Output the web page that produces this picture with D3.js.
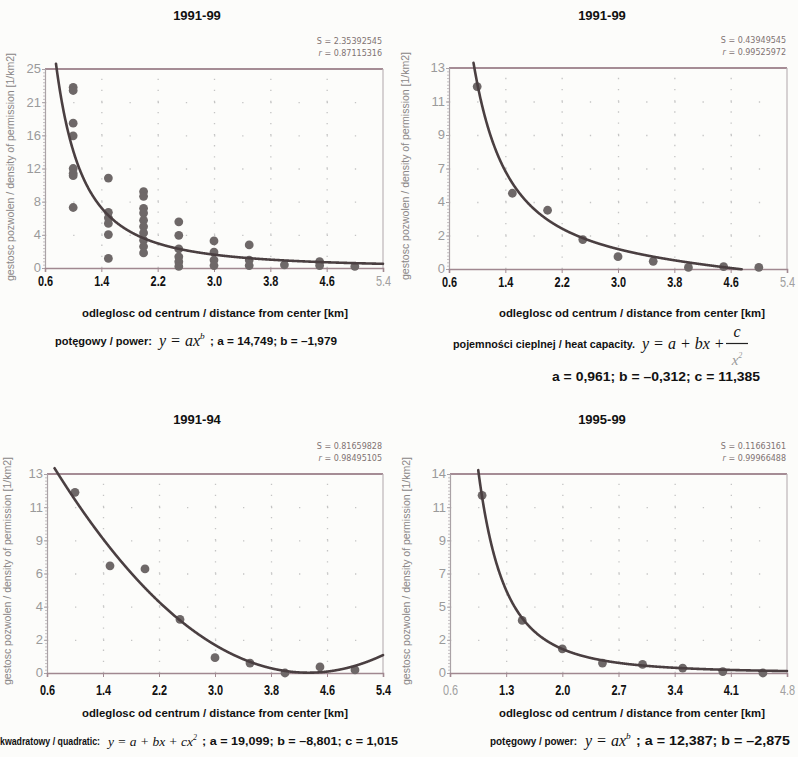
<!DOCTYPE html>
<html>
<head>
<meta charset="utf-8">
<script src="https://cdn.jsdelivr.net/npm/d3@7"></script>
<style>
  body { margin: 0; background: #fcfcfa; }
  svg { display: block; }
</style>
</head>
<body>
<svg id="chart" width="798" height="757"></svg>
<script>
// ---- data: distance from centre [km] and permit density [1/km2] ----
const dist1 = [1.0,1.0,1.0,1.0,1.0,1.0,1.0,1.0,
               1.5,1.5,1.5,1.5,1.5,1.5,
               2.0,2.0,2.0,2.0,2.0,2.0,2.0,2.0,2.0,2.0,
               2.5,2.5,2.5,2.5,2.5,2.5,
               3.0,3.0,3.0,3.0,
               3.5,3.5,3.5,
               4.0,
               4.5,4.5,
               5.0];
const dens1 = [22.7,22.3,18.2,16.6,12.5,11.9,11.6,7.6,
               11.3,7.0,6.3,5.6,4.2,1.2,
               9.6,9.0,7.5,6.9,6.0,5.2,4.4,3.5,2.7,1.9,
               5.8,4.1,2.4,1.4,0.8,0.2,
               3.4,2.0,1.0,0.3,
               2.9,1.0,0.3,
               0.4,
               0.8,0.3,
               0.2];

const dist2 = [1.0,1.5,2.0,2.5,3.0,3.5,4.0,4.5,5.0];
const dens2 = [11.8,4.9,3.8,1.9,0.8,0.5,0.1,0.15,0.1];

const dist3 = [1.0,1.5,2.0,2.5,3.0,3.5,4.0,4.5,5.0];
const dens3 = [11.8,7.0,6.8,3.5,1.0,0.65,0.0,0.4,0.2];

const dist4 = [1.0,1.5,2.0,2.5,3.0,3.5,4.0,4.5];
const dens4 = [12.5,3.7,1.7,0.7,0.6,0.35,0.1,0.0];

// fitted model parameters
const fit1 = [14.749, -1.979];          // power: a*x^b
const fit2 = [0.961, -0.312, 11.385];   // heat capacity: a + b*x + c/x^2
const fit3 = [19.099, -8.801, 1.015];   // quadratic: a + b*x + c*x^2
const fit4 = [12.387, -2.875];          // power: a*x^b

// fit statistics
const stats1 = ["2.35392545", "0.87115316"];
const stats2 = ["0.43949545", "0.99525972"];
const stats3 = ["0.81659828", "0.98495105"];
const stats4 = ["0.11663161", "0.99966488"];

// tick labels (evenly spaced along each axis)
const xTicksA = ["0.6","1.4","2.2","3.0","3.8","4.6","5.4"];
const xTicksB = ["0.6","1.3","2.0","2.7","3.4","4.1","4.8"];
const yTicks1 = ["0","4","8","12","16","21","25"];
const yTicks2 = ["0","2","4","7","9","11","13"];
const yTicks3 = ["0","2","4","6","9","11","13"];
const yTicks4 = ["0","2","5","7","9","11","14"];

const titles = ["1991-99", "1991-99", "1991-94", "1995-99"];
const xTitle = "odleglosc od centrum / distance from center [km]";
const yTitle = "gestosc pozwolen / density of permission [1/km2]";

// ---- drawing ----
const svg = d3.select("#chart");
const SANS = "'Liberation Sans', Arial, sans-serif";
const SERIF = "'Liberation Serif', 'Times New Roman', serif";

const power = p => v => p[0] * Math.pow(v, p[1]);
const heat = p => v => p[0] + p[1] * v + p[2] / (v * v);
const quad = p => v => p[0] + p[1] * v + p[2] * v * v;

const panels = [
  { box: [45, 383, 69, 268], xDom: [0.6, 5.4], yMax: 25, xLabels: xTicksA, yLabels: yTicks1,
    xs: dist1, ys: dens1, f: power(fit1), title: titles[0], tPos: [197, 20], stats: stats1,
    grayX: [6], yTitlePos: [10, 167], xTitlePos: [215, 317], pad: 4 },
  { box: [449, 787, 68, 269], xDom: [0.6, 5.4], yMax: 13, xLabels: xTicksA, yLabels: yTicks2,
    xs: dist2, ys: dens2, f: heat(fit2), title: titles[1], tPos: [602, 20], stats: stats2,
    grayX: [6], yTitlePos: [405, 166], xTitlePos: [632, 317], pad: 4 },
  { box: [47, 383, 474, 673], xDom: [0.6, 5.4], yMax: 13, xLabels: xTicksA, yLabels: yTicks3,
    xs: dist3, ys: dens3, f: quad(fit3), title: titles[2], tPos: [197, 424], stats: stats3,
    grayX: [], yTitlePos: [7, 571], xTitlePos: [215, 717], pad: 8 },
  { box: [450, 787, 474, 673], xDom: [0.6, 4.8], yMax: 14, xLabels: xTicksB, yLabels: yTicks4,
    xs: dist4, ys: dens4, f: power(fit4), title: titles[3], tPos: [602, 424], stats: stats4,
    grayX: [0, 6], yTitlePos: [406, 571], xTitlePos: [632, 717], pad: 8 }
];

panels.forEach(p => {
  const [x0, x1, y0, y1] = p.box;
  const x = d3.scaleLinear().domain(p.xDom).range([x0, x1]);
  const y = d3.scaleLinear().domain([0, p.yMax]).range([y1, y0]);
  const nX = p.xLabels.length - 1, nY = p.yLabels.length - 1;
  const xVals = p.xLabels.map((_, i) => p.xDom[0] + (p.xDom[1] - p.xDom[0]) * i / nX);
  const yVals = p.yLabels.map((_, i) => p.yMax * i / nY);
  const g = svg.append("g");

  // dotted grid
  const xStep = (x1 - x0) / nX, yStep = (y1 - y0) / nY;
  g.append("g").attr("transform", `translate(${x0},0)`)
    .call(d3.axisLeft(y).tickValues(yVals.slice(1, -1)).tickSize(-(x1 - x0)).tickFormat(""))
    .call(a => a.select(".domain").remove())
    .call(a => a.selectAll("line").attr("stroke", "#c4c4c4").attr("stroke-width", 1.3)
      .attr("stroke-dasharray", `1.3 ${xStep / 2 - 1.3}`));
  g.append("g").attr("transform", `translate(0,${y1})`)
    .call(d3.axisBottom(x).tickValues(xVals.slice(1, -1)).tickSize(-(y1 - y0)).tickFormat(""))
    .call(a => a.select(".domain").remove())
    .call(a => a.selectAll("line").attr("stroke", "#c4c4c4").attr("stroke-width", 1.3)
      .attr("stroke-dasharray", `1.3 ${yStep / 3 - 1.3}`));

  // frame: top and right edges
  g.append("line").attr("x1", x0).attr("x2", x1).attr("y1", y0).attr("y2", y0)
    .attr("stroke", "#a58c95").attr("stroke-width", 1.8);
  g.append("line").attr("x1", x1).attr("x2", x1).attr("y1", y0).attr("y2", y1)
    .attr("stroke", "#bdb4b8").attr("stroke-width", 1.2);

  // left axis: minor ticks, then labelled major ticks
  g.append("g").attr("transform", `translate(${x0},0)`)
    .call(d3.axisLeft(y).tickValues(d3.range(0, 61).map(i => p.yMax * i / 60)).tickSize(2).tickFormat(""))
    .call(a => a.select(".domain").remove())
    .call(a => a.selectAll("line").attr("stroke", "#b8b0b4").attr("stroke-width", 0.8));
  g.append("g").attr("transform", `translate(${x0},0)`)
    .call(d3.axisLeft(y).tickValues(yVals).tickSize(3).tickPadding(1)
      .tickFormat((d, i) => p.yLabels[i]))
    .call(a => a.select(".domain").attr("stroke", "#aaa2a6").attr("stroke-width", 1.2))
    .call(a => a.selectAll("line").attr("stroke", "#aaa2a6"))
    .call(a => a.selectAll("text").attr("fill", "#9a9a9a").attr("dy", "0.3em")
      .style("font-family", SANS).style("font-size", "13px"));

  // bottom axis
  g.append("g").attr("transform", `translate(0,${y1})`)
    .call(d3.axisBottom(x).tickValues(xVals).tickSize(4).tickPadding(p.pad)
      .tickFormat((d, i) => p.xLabels[i]))
    .call(a => a.select(".domain").attr("stroke", "#a08890").attr("stroke-width", 1.6))
    .call(a => a.selectAll("line").attr("stroke", "#a08890"))
    .call(a => a.selectAll("text")
      .style("font-family", SANS).style("font-size", "14px")
      .attr("transform", "scale(0.78,1)")
      .each(function (d, i) {
        const grey = p.grayX.includes(i);
        d3.select(this).attr("fill", grey ? "#a0a0a0" : "#111")
          .style("font-weight", grey ? "normal" : "bold");
      }));

  // observations
  g.append("g").selectAll("circle").data(p.xs.map((v, i) => [v, p.ys[i]])).join("circle")
    .attr("cx", d => x(d[0])).attr("cy", d => y(d[1])).attr("r", 4.4)
    .attr("fill", "#6e6868");

  // fitted curve
  const pts = d3.range(p.xDom[0], p.xDom[1] + 1e-9, 0.004)
    .map(v => [v, p.f(v)])
    .filter(d => d[1] <= p.yMax * 1.03 && d[1] >= -0.02);
  g.append("path").datum(pts)
    .attr("d", d3.line().x(d => x(d[0])).y(d => y(d[1])))
    .attr("fill", "none").attr("stroke", "#4a3f41").attr("stroke-width", 2.6)
    .attr("stroke-linejoin", "round").attr("stroke-linecap", "round");

  // title
  g.append("text").attr("x", p.tPos[0]).attr("y", p.tPos[1]).attr("text-anchor", "middle")
    .style("font-family", SANS).style("font-size", "13px").style("font-weight", "bold")
    .attr("fill", "#111").text(p.title);

  // statistics
  const st = g.append("text").attr("text-anchor", "end")
    .style("font-family", "'DejaVu Sans', sans-serif").style("font-size", "8px").attr("fill", "#7f7272");
  st.append("tspan").attr("x", x1 - 1).attr("y", y0 - 25).text(`S = ${p.stats[0]}`);
  const r = st.append("tspan").attr("x", x1 - 1).attr("y", y0 - 13);
  r.append("tspan").style("font-style", "italic").text("r");
  r.append("tspan").text(` = ${p.stats[1]}`);

  // axis titles
  g.append("text").attr("x", p.xTitlePos[0]).attr("y", p.xTitlePos[1]).attr("text-anchor", "middle")
    .style("font-family", SANS).style("font-size", "11px").style("font-weight", "bold")
    .attr("fill", "#111").attr("textLength", 266).attr("lengthAdjust", "spacingAndGlyphs")
    .text(xTitle);
  g.append("text")
    .attr("transform", `translate(${p.yTitlePos[0]},${p.yTitlePos[1]}) rotate(-90)`)
    .attr("text-anchor", "middle").attr("dy", "0.35em")
    .style("font-family", SANS).style("font-size", "10px").attr("fill", "#8a8686")
    .attr("textLength", 228).attr("lengthAdjust", "spacingAndGlyphs")
    .text(yTitle);
});

// ---- model formulas under each panel ----
// plain label text with a fixed start and width
function label(x, yb, txt, size, width, anchor) {
  const t = svg.append("text").attr("x", x).attr("y", yb).attr("fill", "#111")
    .attr("text-anchor", anchor || "start")
    .style("font-family", SANS).style("font-size", size + "px").style("font-weight", "bold")
    .text(txt);
  if (width) t.attr("textLength", width).attr("lengthAdjust", "spacingAndGlyphs");
  return t;
}
// italic math with an optional superscript; returns the x where it ends
function math(x, yb, txt, size, sup) {
  const t = svg.append("text").attr("x", x).attr("y", yb).attr("fill", "#111")
    .style("font-family", SERIF).style("font-style", "italic").style("font-size", size + "px");
  t.append("tspan").text(txt);
  if (sup) t.append("tspan").attr("dy", -size * 0.45).style("font-size", (size * 0.58) + "px").text(sup);
  return x + t.node().getBBox().width;
}

// power model, 1991-99
label(55, 345, "potęgowy / power:", 10.5, 97);
{
  const e = math(159, 346, "y = ax", 16, "b");
  label(e + 3, 345, "; a = 14,749; b = –1,979", 11, 337 - (e + 3));
}

// heat-capacity model, 1991-99
label(453, 348, "pojemności cieplnej / heat capacity.", 10.5, 182);
math(642, 349, "y = a + bx +", 16);
svg.append("text").attr("x", 737).attr("y", 337).attr("text-anchor", "middle")
  .style("font-family", SERIF).style("font-style", "italic").style("font-size", "16px")
  .attr("fill", "#111").text("c");
svg.append("line").attr("x1", 726).attr("x2", 748).attr("y1", 343.5).attr("y2", 343.5)
  .attr("stroke", "#222").attr("stroke-width", 1.2);
{
  const dn = svg.append("text").attr("x", 737).attr("y", 365).attr("text-anchor", "middle")
    .style("font-family", SERIF).style("font-style", "italic").attr("fill", "#999");
  dn.append("tspan").style("font-size", "15px").text("x");
  dn.append("tspan").style("font-size", "8px").attr("dy", -7).text("2");
}
label(656, 381, "a = 0,961; b = –0,312; c = 11,385", 12, 208, "middle");

// quadratic model, 1991-94
label(0, 745, "kwadratowy / quadratic:", 10, 100);
{
  const e = math(108, 746, "y = a + bx + cx", 13.5, "2");
  label(e + 3, 745, "; a = 19,099; b = –8,801; c = 1,015", 11.5, 398 - (e + 3));
}

// power model, 1995-99
label(490, 745, "potęgowy / power:", 10.5, 87);
{
  const e = math(585, 746, "y = ax", 16, "b");
  label(e + 3, 745, "; a = 12,387; b = –2,875", 12, 790 - (e + 3));
}
</script>
</body>
</html>
